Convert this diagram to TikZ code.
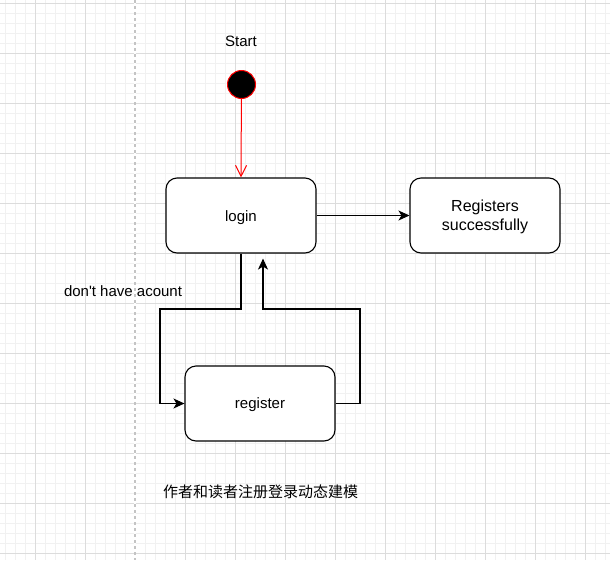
\documentclass[tikz,border=0pt]{standalone}
\usepackage{fontspec}
\setmainfont{Liberation Sans}
\newfontfamily\lblfont{Liberation Sans}
\newfontfamily\cjk{Noto Sans CJK SC}
\usetikzlibrary{arrows.meta}
\definecolor{minorgrid}{HTML}{F1F1F1}
\definecolor{majorgrid}{HTML}{DCDCDC}
\definecolor{dashgray}{HTML}{C4C4C4}
\definecolor{startred}{HTML}{FF0000}
\tikzset{
  state/.style={draw=black, line width=1.1pt, rounded corners=11pt, fill=white,
    minimum width=150pt, minimum height=75pt, inner sep=0pt, align=center,
    font=\fontsize{15}{18}\selectfont},
  arr/.style={draw=black, line width=1.1pt, -{Stealth[length=11pt,width=10pt,inset=3pt]}},
  redarr/.style={draw=startred, line width=1pt, -{Straight Barb[length=11pt,width=11pt]}},
  txt/.style={inner sep=0pt, font=\fontsize{15}{18}\selectfont},
}
\begin{document}
\begin{tikzpicture}[x=1pt, y=-1pt]
\useasboundingbox (0,0) rectangle (610,560);
\fill[white] (0,0) rectangle (610,560);
% grid
\foreach \x in {5,15,...,605} \draw[minorgrid, line width=0.8pt] (\x,0) -- (\x,560);
\foreach \y in {3,13,...,553} \draw[minorgrid, line width=0.8pt] (0,\y) -- (610,\y);
\foreach \x in {35,85,...,585} \draw[majorgrid, line width=0.8pt] (\x,0) -- (\x,560);
\foreach \y in {3,53,...,553} \draw[majorgrid, line width=0.8pt] (0,\y) -- (610,\y);
\draw[white, line width=1.2pt] (135,0) -- (135,560);
\draw[dashgray, line width=1.2pt, dash pattern=on 3pt off 3pt] (135,0) -- (135,560);

% nodes
\node[txt] (starttxt) at (241,41) {Start};
\node[circle, draw=startred, fill=black, line width=1pt, minimum size=28pt, inner sep=0pt] (start) at (241.5,84.5) {};
\node[state] (login) at (241,215.5) {\raisebox{-2pt}[\height][\depth]{login}};
\node[state, font=\fontsize{16}{19}\selectfont] (succ) at (485,215.5)
  {\raisebox{-2pt}[\height][\depth]{\begin{tabular}{@{}c@{}}Registers\\successfully\end{tabular}}};
\node[state] (register) at (260,403.5) {\raisebox{-1.5pt}[\height][\depth]{register}};
\node[txt, font=\lblfont\fontsize{15}{18}\selectfont] (lbl) at (123,291) {don't have acount};
\node[inner sep=0pt, font=\cjk\fontsize{15}{18}\selectfont] (title) at (260.5,491.5) {作者和读者注册登录动态建模};

% connector coordinates
\coordinate (d1) at (241,309);
\coordinate (d2) at (160,309);
\coordinate (d3) at (160,403.5);
\coordinate (u1) at (360,403.5);
\coordinate (u2) at (360,309);
\coordinate (u3) at (263,309);

% connectors
\draw[redarr] (start) -- (login.north);
\draw[arr] (login.east) -- (succ.west);
\draw[arr] (login.south) -- (d1) -- (d2) -- (d3) -- (register.west);
\draw[arr, shorten >=5pt] (register.east) -- (u1) -- (u2) -- (u3) -- (login.south -| u3);
\end{tikzpicture}
\end{document}
